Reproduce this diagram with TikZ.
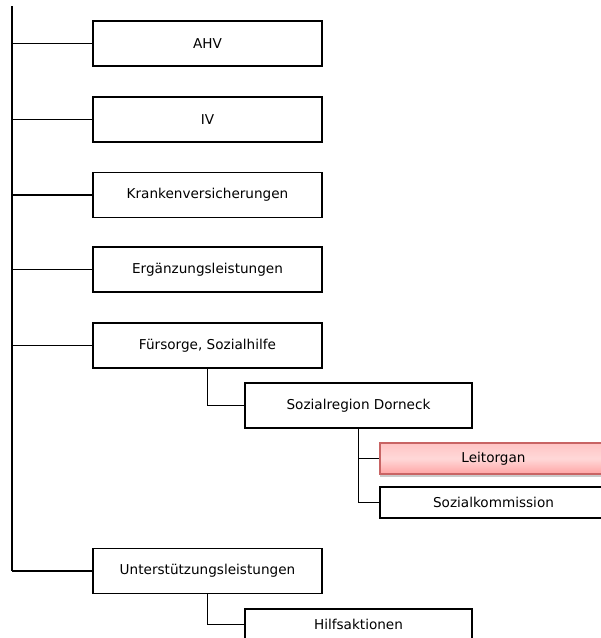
\documentclass[tikz,border=0pt]{standalone}
\usepackage{fontspec}
\setmainfont{DejaVu Sans}
\usetikzlibrary{shadows}
\definecolor{leitborder}{HTML}{C86464}
\definecolor{leittop}{HTML}{FFC4C4}
\definecolor{leitmid}{HTML}{FFD8D8}
\definecolor{leitbot}{HTML}{FFA4A4}
\tikzset{
  orgbox/.style={draw=black, line width=1.6pt, fill=white, minimum width=229pt,
    minimum height=45pt, inner sep=0pt, font=\fontsize{13.6}{16}\selectfont},
  subbox/.style={orgbox, minimum width=227pt},
  flatbox/.style={subbox, minimum height=31pt},
  hilite/.style={flatbox, draw=leitborder, top color=leittop, bottom color=leitbot,
    middle color=leitmid,
    drop shadow={shadow xshift=0pt, shadow yshift=-3pt, opacity=0.35, fill=black!60}},
  link/.style={draw=black, line width=1.6pt},
  spine/.style={draw=black, line width=2.6pt}
}
\begin{document}
\begin{tikzpicture}[x=1pt, y=-1pt]
  \useasboundingbox (0,0) rectangle (601,638);

  % main column of benefits
  \node[orgbox] (ahv)  at (207.5, 43.5)  {AHV};
  \node[orgbox] (iv)   at (207.5, 119.5) {IV};
  \node[orgbox] (kv)   at (207.5, 195)   {Krankenversicherungen};
  \node[orgbox] (el)   at (207.5, 269.5) {Ergänzungsleistungen};
  \node[orgbox] (fs)   at (207.5, 345.5) {Fürsorge, Sozialhilfe};
  \node[orgbox] (unt)  at (207.5, 571)   {Unterstützungsleistungen};

  % sub levels
  \node[subbox]  (soz)  at (358.5, 405.5) {Sozialregion Dorneck};
  \node[hilite]  (leit) at (493.5, 458.5) {Leitorgan};
  \node[flatbox] (komm) at (493.5, 502.5) {Sozialkommission};
  \node[flatbox] (hilf) at (358.5, 624.5) {Hilfsaktionen};

  % spine on the left
  \coordinate (top) at (12, 6);
  \draw[spine] (top) -- (top |- unt.west);
  \foreach \n in {ahv, iv, kv, el, fs, unt}
    \draw[link] (\n.west) -- (\n.west -| top);

  % branches to the sub levels
  \draw[link] (fs.south)  |- (soz.west);
  \draw[link] (soz.south) |- (leit.west);
  \draw[link] (soz.south) |- (komm.west);
  \draw[link] (unt.south) |- (hilf.west);
\end{tikzpicture}
\end{document}
